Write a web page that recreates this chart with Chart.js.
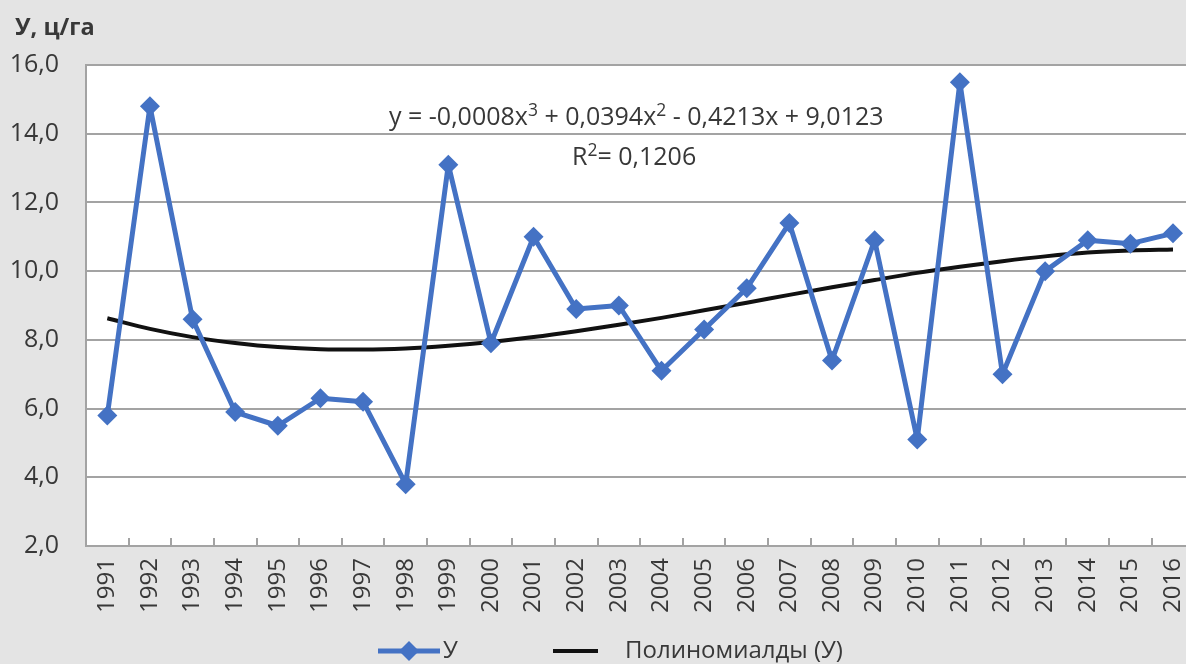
<!DOCTYPE html>
<html>
<head>
<meta charset="utf-8">
<script src="https://cdn.jsdelivr.net/npm/chart.js@4"></script>
<style>
  body { margin: 0; background: #e4e4e4; overflow: hidden; }
  #wrap { position: relative; width: 1214px; height: 664px; }
  .txt { position: absolute; font-family: "Open Sans", sans-serif; color: #383838; white-space: nowrap; }
  .txt sup { font-size: 70%; vertical-align: 0; position: relative; top: -0.5em; }
</style>
</head>
<body>
<div id="wrap">
  <canvas id="grafica" width="1214" height="664"></canvas>
  <div class="txt" style="left:15px; top:10px; font-size:23.5px; font-weight:bold;">У, ц/га</div>
  <div class="txt" id="eq" style="left:389px; top:98px; font-size:25px;">y = -0,0008x<sup>3</sup> + 0,0394x<sup>2</sup> - 0,4213x + 9,0123</div>
  <div class="txt" style="left:572px; top:138px; font-size:25px;">R<sup>2</sup>= 0,1206</div>
</div>
<script>
var anios = ['1991', '1992', '1993', '1994', '1995', '1996', '1997', '1998', '1999', '2000', '2001', '2002', '2003',
    '2004', '2005', '2006', '2007', '2008', '2009', '2010', '2011', '2012', '2013', '2014', '2015', '2016'];
var rendimiento = [5.8, 14.8, 8.6, 5.9, 5.5, 6.3, 6.2, 3.8, 13.1, 7.9, 11.0, 8.9, 9.0,
    7.1, 8.3, 9.5, 11.4, 7.4, 10.9, 5.1, 15.5, 7.0, 10.0, 10.9, 10.8, 11.1];
// linea de tendencia
var tendencia = [8.63, 8.32, 8.08, 7.91, 7.79, 7.73, 7.72, 7.75, 7.83, 7.94, 8.08, 8.25, 8.44,
    8.64, 8.86, 9.08, 9.31, 9.53, 9.74, 9.95, 10.13, 10.29, 10.43, 10.54, 10.60, 10.63];
var yTicks = [2, 4, 6, 8, 10, 12, 14, 16];

var azul = '#4472C4';
var gris = '#a3a3a3';
var texto = '#383838';

// fondo blanco del area de trazado
var fondoPlugin = {
    id: 'fondo',
    beforeDraw: function (chart) {
        var a = chart.chartArea;
        var ctx = chart.ctx;
        ctx.save();
        ctx.fillStyle = '#ffffff';
        ctx.fillRect(a.left, a.top, a.right - a.left, a.bottom - a.top);
        ctx.restore();
    }
};

// marcas del eje x hacia adentro
var marcasPlugin = {
    id: 'marcas',
    beforeDatasetsDraw: function (chart) {
        var xs = chart.scales.x;
        var a = chart.chartArea;
        var ctx = chart.ctx;
        var paso = xs.getPixelForValue(1) - xs.getPixelForValue(0);
        ctx.save();
        ctx.strokeStyle = gris;
        ctx.lineWidth = 2;
        for (var i = 1; i <= anios.length; i++) {
            var x = Math.round(xs.getPixelForValue(i) - paso / 2);
            ctx.beginPath();
            ctx.moveTo(x, a.bottom);
            ctx.lineTo(x, a.bottom - 8);
            ctx.stroke();
        }
        ctx.restore();
    }
};

// leyenda dibujada a mano
var leyendaPlugin = {
    id: 'leyenda',
    afterDraw: function (chart) {
        var ctx = chart.ctx;
        var y = 651;
        ctx.save();
        ctx.lineCap = 'butt';
        ctx.strokeStyle = azul;
        ctx.lineWidth = 5;
        ctx.beginPath();
        ctx.moveTo(378, y);
        ctx.lineTo(440, y);
        ctx.stroke();
        ctx.fillStyle = azul;
        ctx.beginPath();
        ctx.moveTo(409, y - 10);
        ctx.lineTo(419, y);
        ctx.lineTo(409, y + 10);
        ctx.lineTo(399, y);
        ctx.closePath();
        ctx.fill();

        ctx.strokeStyle = '#111111';
        ctx.lineWidth = 4;
        ctx.beginPath();
        ctx.moveTo(553, y);
        ctx.lineTo(598, y);
        ctx.stroke();

        ctx.fillStyle = texto;
        ctx.font = '24px "Open Sans"';
        ctx.textBaseline = 'middle';
        ctx.fillText('У', 443, y);
        ctx.fillText('Полиномиалды (У)', 625, y);
        ctx.restore();
    }
};

var ctx = document.getElementById('grafica').getContext('2d');
var grafica = new Chart(ctx, {
    type: 'line',
    data: {
        labels: anios,
        datasets: [{
            label: 'У',
            data: rendimiento,
            borderColor: azul,
            backgroundColor: azul,
            borderWidth: 5,
            borderJoinStyle: 'round',
            pointStyle: 'rectRot',
            pointRadius: 10,
            pointBorderWidth: 0,
            tension: 0,
            order: 1
        }, {
            label: 'Полиномиалды (У)',
            data: tendencia,
            borderColor: '#111111',
            borderWidth: 4,
            pointRadius: 0,
            cubicInterpolationMode: 'monotone',
            order: 2
        }]
    },
    options: {
        responsive: false,
        animation: false,
        layout: { padding: { top: 65, left: 0, right: 0, bottom: 46 } },
        plugins: {
            legend: { display: false },
            tooltip: { enabled: false }
        },
        scales: {
            x: {
                offset: true,
                grid: { display: true, drawOnChartArea: false, drawTicks: false },
                border: { display: true, color: gris, width: 2 },
                ticks: {
                    maxRotation: 90,
                    minRotation: 90,
                    padding: 12,
                    color: texto,
                    font: { family: 'Open Sans', size: 24 }
                },
                afterFit: function (scale) { scale.height = 72; }
            },
            y: {
                min: 2,
                max: 16,
                afterBuildTicks: function (scale) {
                    scale.ticks = yTicks.map(function (v) { return { value: v }; });
                },
                grid: { color: gris, lineWidth: 2, drawTicks: false },
                border: { display: true, color: gris, width: 2 },
                ticks: {
                    padding: 27,
                    color: texto,
                    font: { family: 'Open Sans', size: 25 },
                    callback: function (v) { return v.toFixed(1).replace('.', ','); }
                },
                afterFit: function (scale) { scale.width = 86; }
            }
        }
    },
    plugins: [fondoPlugin, marcasPlugin, leyendaPlugin]
});
</script>
</body>
</html>
